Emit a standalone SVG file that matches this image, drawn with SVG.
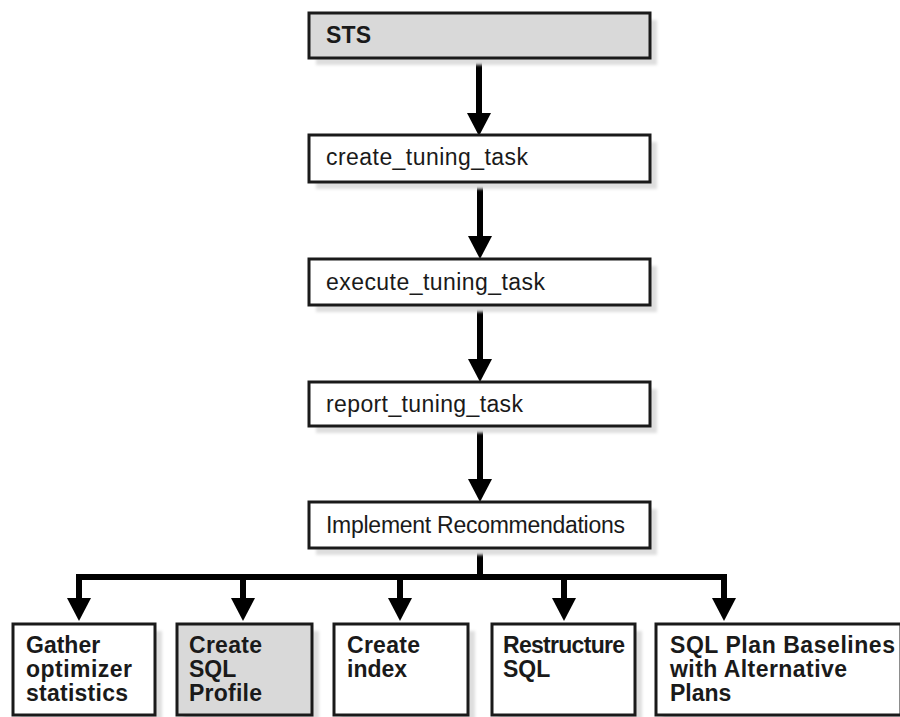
<svg xmlns="http://www.w3.org/2000/svg" xmlns:xlink="http://www.w3.org/1999/xlink" width="900" height="717" viewBox="0 0 900 717">
<style>
.box{stroke:#1a1a1a;stroke-width:3;fill:#ffffff}
.gray{fill:#d9d9d9}
.shadow{fill:#dedede;filter:url(#blur)}
.t{font-family:"Liberation Sans",Arial,sans-serif;font-size:23px;fill:#1a1a1a}
.b{font-weight:bold}
.line{stroke:#000;stroke-width:6;fill:none}
</style>
<defs>
<filter id="blur" x="-10%" y="-10%" width="120%" height="120%"><feGaussianBlur stdDeviation="1.5"/></filter>
<path id="ah" d="M-12,-23 L12,-23 L0,0 Z" fill="#000"/>
</defs>
<rect width="900" height="717" fill="#fff"/>
<g id="connectors">
<path class="line" d="M479,58 V114"/><use xlink:href="#ah" x="479" y="136"/>
<path class="line" d="M480,182 V238"/><use xlink:href="#ah" x="480" y="259"/>
<path class="line" d="M480,305 V361"/><use xlink:href="#ah" x="480" y="382"/>
<path class="line" d="M480,426 V481"/><use xlink:href="#ah" x="480" y="502"/>
<path class="line" d="M480,548 V577 M79,577 H724 M79,574 V600 M243,574 V600 M400,574 V600 M564,574 V600 M724,574 V600"/>
<use xlink:href="#ah" x="79" y="621"/>
<use xlink:href="#ah" x="243" y="621"/>
<use xlink:href="#ah" x="400" y="621"/>
<use xlink:href="#ah" x="564" y="621"/>
<use xlink:href="#ah" x="724" y="621"/>
</g>
<g id="sts">
<rect class="shadow" x="316" y="20" width="341" height="45"/>
<rect class="box gray" x="309" y="13" width="341" height="45"/>
<text class="t b" x="326" y="43" textLength="45">STS</text>
</g>
<g id="create_tuning_task">
<rect class="shadow" x="316" y="142" width="341" height="47"/>
<rect class="box" x="309" y="135" width="341" height="47"/>
<text class="t" x="326" y="165" textLength="202">create_tuning_task</text>
</g>
<g id="execute_tuning_task">
<rect class="shadow" x="316" y="266" width="341" height="46"/>
<rect class="box" x="309" y="259" width="341" height="46"/>
<text class="t" x="326" y="290" textLength="219">execute_tuning_task</text>
</g>
<g id="report_tuning_task">
<rect class="shadow" x="316" y="389" width="341" height="44"/>
<rect class="box" x="309" y="382" width="341" height="44"/>
<text class="t" x="326" y="412" textLength="197">report_tuning_task</text>
</g>
<g id="implement">
<rect class="shadow" x="316" y="509" width="341" height="46"/>
<rect class="box" x="309" y="502" width="341" height="46"/>
<text class="t" x="326" y="533" textLength="299">Implement Recommendations</text>
</g>
<g id="gather">
<rect class="shadow" x="20" y="631" width="142" height="95"/>
<rect class="box" x="13" y="624" width="142" height="91"/>
<text class="t b" x="26" y="653">Gather</text>
<text class="t b" x="26" y="677" textLength="106">optimizer</text>
<text class="t b" x="26" y="701" textLength="102">statistics</text>
</g>
<g id="sql_profile">
<rect class="shadow" x="184" y="631" width="135" height="95"/>
<rect class="box gray" x="177" y="624" width="135" height="91"/>
<text class="t b" x="189" y="653" textLength="73">Create</text>
<text class="t b" x="189" y="677">SQL</text>
<text class="t b" x="189" y="701" textLength="73">Profile</text>
</g>
<g id="index">
<rect class="shadow" x="341" y="631" width="134" height="95"/>
<rect class="box" x="334" y="624" width="134" height="91"/>
<text class="t b" x="347" y="653" textLength="73">Create</text>
<text class="t b" x="347" y="677">index</text>
</g>
<g id="restructure">
<rect class="shadow" x="499" y="631" width="143" height="95"/>
<rect class="box" x="492" y="624" width="143" height="91"/>
<text class="t b" x="503" y="653" textLength="122">Restructure</text>
<text class="t b" x="503" y="677">SQL</text>
</g>
<g id="baselines">
<rect class="shadow" x="663" y="631" width="245" height="95"/>
<rect class="box" x="656" y="624" width="245" height="91"/>
<text class="t b" x="670" y="653" textLength="225">SQL Plan Baselines</text>
<text class="t b" x="670" y="677" textLength="177">with Alternative</text>
<text class="t b" x="670" y="701">Plans</text>
</g>
</svg>
